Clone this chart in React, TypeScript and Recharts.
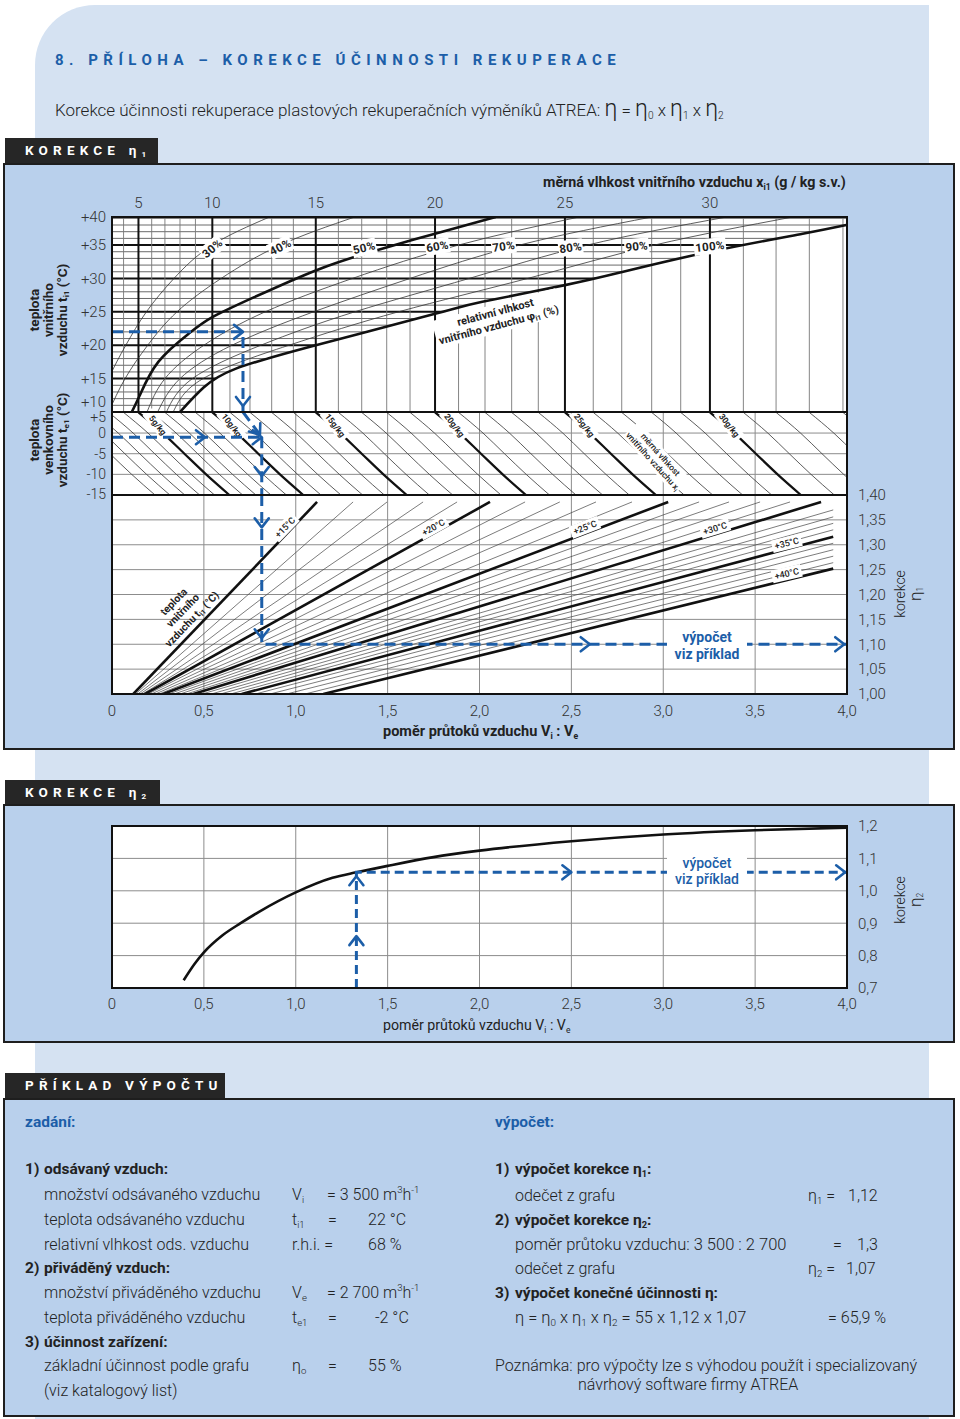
import React from "react";
import { ComposedChart, Line, Area, XAxis, YAxis, ReferenceLine, ReferenceDot } from "recharts";

const FONT = "Roboto, 'Open Sans', 'DejaVu Sans', sans-serif";
const BLUE = "#1c5ea8";
const INK = "#222";
const PANEL = "#d5e2f2";
const BOX = "#b9d0ec";
const GRID = "#8c8c8c";

// poměr průtoků vzduchu Vi : Ve (shared x axis)
const RATIO_TICKS = [0, 0.5, 1, 1.5, 2, 2.5, 3, 3.5, 4];
const RATIO_GRID = [0.5, 1, 1.5, 2, 2.5, 3, 3.5];

// top scale of chart 1: měrná vlhkost x_i1 (g/kg) -> place on the ratio axis
const HUM_KNOT_G = [0, 4, 5, 6, 7, 8, 9, 10, 11, 12, 13, 14, 15, 16, 17, 18, 19, 20, 21, 22, 23, 24, 25, 26, 27, 28, 29, 30, 31, 32, 33, 34];
const HUM_KNOT_AT = [-0.261, 0.063, 0.144, 0.216, 0.288, 0.37, 0.454, 0.546, 0.642, 0.751, 0.869, 0.987, 1.109, 1.232, 1.359, 1.495, 1.622, 1.758, 1.886, 2.03, 2.175, 2.32, 2.465, 2.619, 2.774, 2.937, 3.095, 3.254, 3.436, 3.614, 3.795, 3.978];
const HUMIDITY_TICKS = [5, 10, 15, 20, 25, 30];
const HUMIDITY_LINES = [4, 5, 6, 7, 8, 9, 10, 11, 12, 13, 14, 15, 16, 17, 18, 19, 20, 21, 22, 23, 24, 25, 26, 27, 28, 29, 30, 31, 32, 33, 34];

// t_i1 (°C)
const TI_TICKS = [10, 15, 20, 25, 30, 35, 39.2];
const TI_LINES = [11, 12, 13, 14, 15, 16, 17, 18, 19, 20, 21, 22, 23, 24, 25, 26, 27, 28, 29, 30, 31, 32, 33, 34, 35, 36, 37, 38, 39];

// relativní vlhkost curves [x_i1 g/kg, t_i1 °C]
const RH_30 = [[2.2, 10], [3.0, 15], [4.15, 20], [5.6, 25], [7.6, 30], [10.0, 35], [12.9, 39.2]];
const RH_40 = [[3.0, 10], [4.1, 15], [5.7, 20], [7.8, 25], [10.5, 30], [13.4, 35], [16.7, 39.2]];
const RH_50 = [[4.55, 10], [5.1, 12.5], [6.5, 17.5], [8.55, 21.7], [10.0, 24.2], [12.2, 27.2], [15.0, 31.2], [17.4, 34.0], [20.0, 36.7], [22.4, 39.2]];
const RH_60 = [[5.65, 10], [7.0, 15], [9.5, 20], [12.7, 25], [16.6, 30], [21.0, 35], [25.5, 39.2]];
const RH_70 = [[6.45, 10], [8.0, 15], [11.1, 20], [14.9, 25], [19.0, 30], [23.3, 35], [28.0, 39.2]];
const RH_80 = [[7.1, 10], [8.8, 15], [12.5, 20], [16.7, 25], [21.4, 30], [25.8, 35], [30.5, 39.2]];
const RH_90 = [[7.55, 10], [9.45, 15], [13.8, 20], [18.5, 25], [23.6, 30], [28.1, 35], [32.5, 39.2]];
const RH_100 = [[8.0, 10], [9.5, 13.7], [11.3, 16.5], [15.0, 20], [20.0, 24.7], [21.9, 26.5], [25.0, 29], [27.05, 31], [30.0, 34], [32.8, 36.7], [34.1, 38.0]];
const RH_THIN = [RH_30, RH_40, RH_60, RH_70, RH_80, RH_90];
const RH_LABELS = ["30%", "40%", "50%", "60%", "70%", "80%", "90%", "100%"];
const RH_LABEL_G = [10.0, 13.4, 17.1, 20.1, 22.7, 25.2, 27.5, 30.0];
const RH_LABEL_T = [34.5, 34.7, 34.6, 34.8, 34.8, 34.6, 34.8, 34.8];
const RH_LABEL_ROT = [-40, -27, -13, -10, -8, -8, -6, -6];

// t_e1 (°C) and the x_i curves of the middle band
const TE_TICKS = [5, 0, -5, -10, -15];
const TE_LINES = [0, -5, -10];
const TE_LEVELS = [5, 0, -5, -10, -15];
const TE_SHIFT = [0, 0.133, 0.25, 0.368, 0.495];
const X_CURVES = [0, 1, 2, 3, 4, 5, 6, 7, 8, 9, 10, 11, 12, 13, 14, 15, 16, 17, 18, 19, 20, 21, 22, 23, 24, 25, 26, 27, 28, 29, 30, 31, 32, 33, 34];
const X_LABELED = [5, 10, 15, 20, 25, 30];

// korekce η1 fan (t_i1 lines)
const ETA1_TICKS = [1, 1.05, 1.1, 1.15, 1.2, 1.25, 1.3, 1.35, 1.4];
const ETA1_LINES = [1.05, 1.1, 1.15, 1.2, 1.25, 1.3, 1.35];
const FAN_TEMPS = [15, 16, 17, 18, 19, 20, 21, 22, 23, 24, 25, 26, 27, 28, 29, 30, 31, 32, 33, 34, 35, 36, 37, 38, 39, 40];
const FAN_START = [0.116, 0.128, 0.14, 0.153, 0.166, 0.18, 0.197, 0.215, 0.236, 0.257, 0.279, 0.308, 0.338, 0.37, 0.405, 0.443, 0.49, 0.54, 0.59, 0.645, 0.706, 0.78, 0.86, 0.95, 1.05, 1.15];
const FAN_END_X = [1.116, 1.312, 1.497, 1.693, 1.878, 2.057, 2.248, 2.437, 2.634, 2.83, 3.027, 3.195, 3.358, 3.527, 3.69, 3.859, 3.925, 3.925, 3.925, 3.925, 3.925, 3.925, 3.925, 3.925, 3.925, 3.925];
const FAN_END_ETA = [1.386, 1.386, 1.386, 1.386, 1.386, 1.386, 1.386, 1.386, 1.386, 1.386, 1.386, 1.386, 1.386, 1.386, 1.386, 1.386, 1.37, 1.356, 1.343, 1.33, 1.316, 1.303, 1.29, 1.277, 1.264, 1.252];
const FAN_LABELS = ["+15°C", "+20°C", "+25°C", "+30°C", "+35°C", "+40°C"];
const FAN_LABEL_X = [0.941, 1.749, 2.574, 3.282, 3.672, 3.672];
const FAN_LABEL_Y = [1.335, 1.335, 1.335, 1.333, 1.303, 1.242];
const FAN_LABEL_ROT = [-46, -29, -21, -17, -14, -13];

// korekce η2
const ETA2_TICKS = [0.7, 0.8, 0.9, 1.0, 1.1, 1.2];
const ETA2_LINES = [0.8, 0.9, 1.0, 1.1];
const ETA2_RATIO = [0.39, 0.45, 0.5, 0.6, 0.7, 0.8, 1.0, 1.2, 1.33, 1.5, 1.75, 2.0, 2.5, 3.0, 3.5, 4.0];
const ETA2_VALUE = [0.724, 0.775, 0.81, 0.862, 0.9, 0.935, 0.995, 1.04, 1.057, 1.077, 1.104, 1.124, 1.153, 1.174, 1.187, 1.195];

// worked example (blue dashed path)
const EX_TI = 22;
const EX_XI = 11.65;
const EX_TE = -1;
const EX_COL = 0.815;
const EX_ETA1 = 1.1;
const EX_RATIO = 1.33;
const EX_ETA2 = 1.057;

const humAt = (g: number) => {
  const k = HUM_KNOT_G;
  const a = HUM_KNOT_AT;
  let i = 1;
  while (i < k.length - 1 && g > k[i]) i++;
  return a[i - 1] + ((g - k[i - 1]) * (a[i] - a[i - 1])) / (k[i] - k[i - 1]);
};
const pts = (arr: number[][]) => arr.map(([g, t]) => ({ x: humAt(g), y: t }));
const comma = (v: number, d: number) => (v === 0 ? "0" : v.toFixed(d).replace(".", ","));

type PlotProps = {
  top: number; h: number; dom: [number, number];
  y?: "left" | "right"; x?: "top" | "bottom";
  yTicks?: number[]; yTick?: any; yFmt?: (v: number) => string;
  xTicks?: number[]; xFmt?: (v: number, i: number) => string; xMargin?: number;
  show?: boolean; data?: any[]; children?: React.ReactNode;
};

function Plot({ top, h, dom, y, x, yTicks, yTick, yFmt, xTicks, xFmt, xMargin = 10, show = false, data, children }: PlotProps) {
  const yw = y === "left" ? 50 : 60;
  const xh = 30;
  const boxTop = x === "top" ? top - xh : top;
  const height = h + (x ? xh : 0);
  const margin = { top: 0, bottom: 0, left: y === "left" ? 112 - yw : 112, right: y === "right" ? 113 - yw : 113 };
  const tickStyle = { fill: "#333", fontSize: 15, fontWeight: 300, fontFamily: FONT };
  return (
    <div style={{ position: "absolute", left: 0, top: boxTop, width: 960, height }}>
      <ComposedChart width={960} height={height} margin={margin} data={data}>
        <XAxis type="number" dataKey="x" domain={[0, 4]} allowDataOverflow hide={!x}
          orientation={x === "top" ? "top" : "bottom"} height={xh}
          ticks={xTicks} interval={0} tickFormatter={xFmt}
          tick={show ? tickStyle : false} axisLine={false} tickLine={false} tickSize={0} tickMargin={xMargin} />
        <YAxis type="number" domain={dom} allowDataOverflow hide={!y}
          orientation={y === "right" ? "right" : "left"} width={yw}
          ticks={yTicks} interval={0} tickFormatter={yFmt}
          tick={show ? yTick || tickStyle : false} axisLine={false} tickLine={false} tickSize={0}
          tickMargin={y === "right" ? 11 : 6} />
        {children}
      </ComposedChart>
    </div>
  );
}

function tag(cx: number, cy: number, lines: React.ReactNode[], o: { w: number; rot?: number; size?: number; weight?: number; color?: string; bg?: boolean; ls?: number }) {
  const size = o.size ?? 9;
  const lh = size * 1.2;
  const h = lines.length * lh + 2;
  return (
    <g transform={`translate(${cx},${cy}) rotate(${o.rot ?? 0})`}>
      {o.bg !== false && <rect x={-o.w / 2} y={-h / 2} width={o.w} height={h} fill="#fff" />}
      <text textAnchor="middle" fontSize={size} fontWeight={o.weight ?? 700} fill={o.color ?? INK} fontFamily={FONT} letterSpacing={o.ls ?? 0}>
        {lines.map((l, i) => (
          <tspan key={i} x={0} y={(i - (lines.length - 1) / 2) * lh + size * 0.35}>{l}</tspan>
        ))}
      </text>
    </g>
  );
}

const chevron = (cx: number, cy: number, rot: number) => (
  <path d="M-9,-7L0,0L-9,7" transform={`translate(${cx},${cy}) rotate(${rot})`} fill="none" stroke={BLUE} strokeWidth={2.6} strokeLinecap="round" strokeLinejoin="round" />
);

const mark = (key: string, x: number, y: number, draw: (cx: number, cy: number) => React.ReactElement) => (
  <ReferenceDot key={key} x={x} y={y} r={0} ifOverflow="visible" shape={(p: any) => draw(p.cx, p.cy)} />
);

const line = (key: string, data: { x: number; y: number }[], stroke: string, width: number, type: any = "monotone", dash?: string) => (
  <Line key={key} data={data} dataKey="y" type={type} stroke={stroke} strokeWidth={width} strokeDasharray={dash}
    dot={false} activeDot={false} isAnimationActive={false} />
);

const Sub = ({ children }: { children: React.ReactNode }) => (
  <span style={{ fontSize: "0.6em", verticalAlign: "-0.3em", lineHeight: 0 }}>{children}</span>
);
const Sup = ({ children }: { children: React.ReactNode }) => (
  <span style={{ fontSize: "0.6em", verticalAlign: "0.7em", lineHeight: 0 }}>{children}</span>
);

const T = ({ x, y, s = 16, w = 300, c = INK, ls = 0, children }: any) => (
  <div style={{ position: "absolute", left: x, top: y - s * 0.62, fontSize: s, fontWeight: w, color: c, letterSpacing: ls, whiteSpace: "nowrap", lineHeight: `${s * 1.2}px` }}>
    {children}
  </div>
);

const Vert = ({ cx, cy, s = 13, w = 700, lh = 14, children }: any) => (
  <div style={{ position: "absolute", left: cx, top: cy, transform: "translate(-50%,-50%) rotate(-90deg)", fontSize: s, fontWeight: w, lineHeight: `${lh}px`, whiteSpace: "nowrap", textAlign: "center", color: INK }}>
    {children}
  </div>
);

function Box({ top, bottom, tabTop, tabW, children }: any) {
  return (
    <>
      <div style={{ position: "absolute", left: 5, top: tabTop, width: tabW, height: top - tabTop + 1, background: "#262626" }} />
      <div style={{ position: "absolute", left: 25, top: tabTop, height: top - tabTop, lineHeight: `${top - tabTop}px`, color: "#fff", fontWeight: 700, fontSize: 13.5, letterSpacing: 5.2, whiteSpace: "nowrap" }}>{children}</div>
      <div style={{ position: "absolute", left: 3, top, width: 952, height: bottom - top, background: BOX, border: "2px solid #1e1e1e", boxSizing: "border-box" }} />
    </>
  );
}

const UP = { top: 217, h: 195, dom: [10, 39.2] as [number, number] };
const MID = { top: 412, h: 83, dom: [-15, 5.1] as [number, number] };
const LOW = { top: 495, h: 199, dom: [1, 1.4] as [number, number] };
const C2 = { top: 826, h: 162, dom: [0.7, 1.2] as [number, number] };

const tiTick = (p: any) => {
  const v = p.payload.value;
  return (
    <text x={p.x} y={p.y + (v === 10 ? -10 : 0)} dy="0.35em" textAnchor="end" fill="#333" fontSize={15} fontWeight={300} fontFamily={FONT}>
      {v >= 39 ? "+40" : `+${v}`}
    </text>
  );
};
const teTick = (p: any) => {
  const v = p.payload.value;
  return (
    <text x={p.x} y={p.y + (v === 5 ? 5 : v === -15 ? -1 : 0)} dy="0.35em" textAnchor="end" fill="#333" fontSize={14} fontWeight={300} fontFamily={FONT}>
      {v > 0 ? `+${v}` : String(v)}
    </text>
  );
};

export default function App() {
  const up = { ...UP, y: "left" as const, x: "top" as const, yTicks: TI_TICKS, yTick: tiTick, xTicks: HUMIDITY_TICKS.map(humAt), xFmt: (_v: number, i: number) => String(HUMIDITY_TICKS[i]), xMargin: 9 };
  const mid = { ...MID, y: "left" as const, yTicks: TE_TICKS, yTick: teTick };
  const low = { ...LOW, y: "right" as const, x: "bottom" as const, yTicks: ETA1_TICKS, yFmt: (v: number) => comma(v, 2), xTicks: RATIO_TICKS, xFmt: (v: number) => comma(v, 1), xMargin: 11 };
  const c2 = { ...C2, y: "right" as const, x: "bottom" as const, yTicks: ETA2_TICKS, yFmt: (v: number) => comma(v, 1), xTicks: RATIO_TICKS, xFmt: (v: number) => comma(v, 1), xMargin: 10 };
  const exX = humAt(EX_XI);
  const dash = "11 6";
  const eta = { fontSize: 23 };

  return (
    <div style={{ position: "absolute", left: 0, top: 0, width: 960, height: 1419, background: "#fff", fontFamily: FONT, color: INK, overflow: "hidden" }}>
      <style>{`.recharts-surface{overflow:visible}`}</style>
      <div style={{ position: "absolute", left: 35, top: 5, width: 894, height: 1414, background: PANEL, borderTopLeftRadius: 60 }} />
      <T x={55} y={60} s={15} w={700} c={BLUE} ls={5.5}>8. PŘÍLOHA – KOREKCE ÚČINNOSTI REKUPERACE</T>
      <T x={55} y={110} s={17}>
        Korekce účinnosti rekuperace plastových rekuperačních výměníků ATREA: <span style={eta}>η</span> = <span style={eta}>η</span><Sub>0</Sub> x <span style={eta}>η</span><Sub>1</Sub> x <span style={eta}>η</span><Sub>2</Sub>
      </T>

      <Box top={163} bottom={750} tabTop={138} tabW={153}>KOREKCE η<Sub>1</Sub></Box>
      <Box top={804} bottom={1043} tabTop={780} tabW={155}>KOREKCE η<Sub>2</Sub></Box>
      <Box top={1098} bottom={1417} tabTop={1073} tabW={220}>PŘÍKLAD VÝPOČTU</Box>

      {/* plot backgrounds */}
      <div style={{ position: "absolute", left: 112, top: 217, width: 735, height: 477, background: "#fff" }} />
      <div style={{ position: "absolute", left: 112, top: 826, width: 735, height: 162, background: "#fff" }} />

      {/* ---- chart 1, upper band: t_i1 vs x_i1 ---- */}
      <Plot {...up}>
        {TI_LINES.map((t) => (
          <ReferenceLine key={`h${t}`} y={t} stroke={t % 5 === 0 ? "#111" : "#444"} strokeWidth={t % 5 === 0 ? 2 : 0.8} />
        ))}
      </Plot>
      <Plot {...up} data={pts(RH_100)}>
        <Area dataKey="y" type="natural" baseValue={10} fill="#fff" fillOpacity={1} stroke="none" isAnimationActive={false} activeDot={false} />
      </Plot>
      <Plot {...up}>
        {HUMIDITY_LINES.map((g) => (
          <ReferenceLine key={`v${g}`} x={humAt(g)} stroke={g % 5 === 0 ? "#111" : "#777"} strokeWidth={g % 5 === 0 ? 2 : 0.9} />
        ))}
        {RH_THIN.map((c, i) => line(`rh${i}`, pts(c), "#333", 0.8, "natural"))}
        {line("rh50", pts(RH_50), "#111", 2.6, "natural")}
        {line("rh100", pts(RH_100), "#111", 2.6, "natural")}
      </Plot>
      <Plot {...up}>
        {RH_LABELS.map((l, i) =>
          mark(`rl${i}`, humAt(RH_LABEL_G[i]), RH_LABEL_T[i], (cx, cy) => tag(cx, cy, [l], { w: l.length * 7.5 + 2, rot: RH_LABEL_ROT[i], size: 11.5, ls: 0.3 }))
        )}
        {mark("rlt", humAt(22.45), 24.0, (cx, cy) =>
          tag(cx, cy, ["relativní vlhkost", <>vnitřního vzduchu φ<tspan fontSize={7} dy={2}>i1</tspan><tspan dy={-2}> (%)</tspan></>], { w: 128, rot: -15, size: 11 })
        )}
      </Plot>
      <Plot {...up} show>
        {line("exu", [{ x: 0, y: EX_TI }, { x: exX, y: EX_TI }, { x: exX, y: 10 }], BLUE, 3, "linear", dash)}
        {mark("au1", exX, EX_TI, (cx, cy) => chevron(cx, cy, 0))}
        {mark("au2", exX, 10.9, (cx, cy) => chevron(cx, cy, 90))}
      </Plot>

      {/* ---- chart 1, middle band: t_e1 with x_i curves ---- */}
      <Plot {...mid}>
        {TE_LINES.map((t) => <ReferenceLine key={`te${t}`} y={t} stroke={GRID} strokeWidth={1} />)}
        {RATIO_GRID.map((r) => <ReferenceLine key={`mr${r}`} x={r} stroke={GRID} strokeWidth={1} />)}
        {X_CURVES.map((g) =>
          line(`xc${g}`, TE_LEVELS.map((te, i) => ({ x: humAt(g) + TE_SHIFT[i], y: te })), g % 5 === 0 && g > 0 ? "#111" : "#333", g % 5 === 0 && g > 0 ? 2.2 : 0.8)
        )}
      </Plot>
      <Plot {...mid}>
        {X_LABELED.map((g) => mark(`xl${g}`, humAt(g) + 0.105, 1.9, (cx, cy) => tag(cx, cy, [`${g}g/kg`], { w: 34, rot: 52, size: 8.5 })))}
        {mark("xlt", 2.964, -6.05, (cx, cy) =>
          tag(cx, cy, ["měrná vlhkost", <>vnitřního vzduchu x<tspan fontSize={6} dy={2}>i</tspan></>], { w: 78, rot: 48, size: 8.5, weight: 500 })
        )}
      </Plot>
      <Plot {...mid} show>
        {line("exm1", [{ x: exX, y: 5.1 }, { x: EX_COL, y: EX_TE }], BLUE, 3, "linear", dash)}
        {line("exm2", [{ x: 0, y: EX_TE }, { x: EX_COL, y: EX_TE }], BLUE, 3, "linear", dash)}
        {line("exm3", [{ x: EX_COL, y: EX_TE }, { x: EX_COL, y: -15 }], BLUE, 3, "linear", dash)}
        {mark("am1", EX_COL - 0.01, EX_TE + 0.6, (cx, cy) => chevron(cx, cy, 54))}
        {mark("am2", EX_COL, EX_TE, (cx, cy) => chevron(cx, cy, 0))}
        {mark("am3", 0.506, EX_TE, (cx, cy) => chevron(cx, cy, 0))}
        {mark("am4", EX_COL, -10.4, (cx, cy) => chevron(cx, cy, 90))}
      </Plot>

      {/* ---- chart 1, lower band: korekce η1 ---- */}
      <Plot {...low}>
        {ETA1_LINES.map((e) => <ReferenceLine key={`el${e}`} y={e} stroke={GRID} strokeWidth={1} />)}
        {RATIO_GRID.map((r) => <ReferenceLine key={`lr${r}`} x={r} stroke={GRID} strokeWidth={1} />)}
        {FAN_TEMPS.map((t, i) =>
          line(`f${t}`, [{ x: FAN_START[i], y: 1 }, { x: FAN_END_X[i], y: FAN_END_ETA[i] }], t % 5 === 0 ? "#111" : "#444", t % 5 === 0 ? 2.6 : 0.7, "linear")
        )}
      </Plot>
      <Plot {...low}>
        {FAN_LABELS.map((l, i) => mark(`fl${i}`, FAN_LABEL_X[i], FAN_LABEL_Y[i], (cx, cy) => tag(cx, cy, [l], { w: 30, rot: FAN_LABEL_ROT[i], size: 9, weight: 500 })))}
        {mark("flt", 0.385, 1.168, (cx, cy) =>
          tag(cx, cy, ["teplota", "vnitřního", <>vzduchu t<tspan fontSize={7} dy={2}>i1</tspan><tspan dy={-2}> (°C)</tspan></>], { w: 100, rot: -46, size: 10.5, bg: false })
        )}
      </Plot>
      <Plot {...low}>
        {line("exl", [{ x: EX_COL, y: 1.4 }, { x: EX_COL, y: EX_ETA1 }, { x: 4, y: EX_ETA1 }], BLUE, 3, "linear", dash)}
        {mark("al1", EX_COL, 1.335, (cx, cy) => chevron(cx, cy, 90))}
        {mark("al2", EX_COL, 1.112, (cx, cy) => chevron(cx, cy, 90))}
        {mark("al3", 2.6, EX_ETA1, (cx, cy) => chevron(cx, cy, 0))}
        {mark("al4", 3.985, EX_ETA1, (cx, cy) => chevron(cx, cy, 0))}
      </Plot>
      <Plot {...low} show>
        {mark("vp1", 3.238, 1.097, (cx, cy) => tag(cx, cy, ["výpočet", "viz příklad"], { w: 80, size: 14, color: BLUE }))}
      </Plot>

      {/* frame of chart 1 */}
      <div style={{ position: "absolute", left: 111, top: 216, width: 737, height: 479, border: "2px solid #111", boxSizing: "border-box" }} />
      <div style={{ position: "absolute", left: 112, top: 411, width: 735, height: 2, background: "#111" }} />
      <div style={{ position: "absolute", left: 112, top: 494, width: 735, height: 2, background: "#111" }} />

      <T x={543} y={183} s={14.3} w={700}>měrná vlhkost vnitřního vzduchu x<Sub>i1</Sub> (g / kg s.v.)</T>
      <T x={383} y={732} s={14.5} w={700}>poměr průtoků vzduchu V<Sub>i</Sub> : V<Sub>e</Sub></T>
      <Vert cx={48} cy={310} s={13.5}>teplota<br />vnitřního<br />vzduchu t<Sub>i1</Sub> (°C)</Vert>
      <Vert cx={48} cy={440} s={13.5}>teplota<br />venkovního<br />vzduchu t<Sub>e1</Sub> (°C)</Vert>
      <Vert cx={908} cy={594} s={14} w={300} lh={15}>korekce<br /><span style={{ fontSize: 17 }}>η</span><Sub>1</Sub></Vert>

      {/* ---- chart 2: korekce η2 ---- */}
      <Plot {...c2}>
        {ETA2_LINES.map((e) => <ReferenceLine key={`e2${e}`} y={e} stroke={GRID} strokeWidth={1} />)}
        {RATIO_GRID.map((r) => <ReferenceLine key={`r2${r}`} x={r} stroke={GRID} strokeWidth={1} />)}
        {line("eta2", ETA2_RATIO.map((r, i) => ({ x: r, y: ETA2_VALUE[i] })), "#111", 2.6)}
      </Plot>
      <Plot {...c2}>
        {line("ex2", [{ x: EX_RATIO, y: 0.7 }, { x: EX_RATIO, y: EX_ETA2 }, { x: 4, y: EX_ETA2 }], BLUE, 3, "linear", "9 5")}
        {mark("a21", EX_RATIO, 0.86, (cx, cy) => chevron(cx, cy, -90))}
        {mark("a22", EX_RATIO, 1.045, (cx, cy) => chevron(cx, cy, -90))}
        {mark("a23", 2.5, EX_ETA2, (cx, cy) => chevron(cx, cy, 0))}
        {mark("a24", 3.99, EX_ETA2, (cx, cy) => chevron(cx, cy, 0))}
      </Plot>
      <Plot {...c2} show>
        {mark("vp2", 3.238, 1.061, (cx, cy) => tag(cx, cy, ["výpočet", "viz příklad"], { w: 80, size: 14, color: BLUE, weight: 500 }))}
      </Plot>
      <div style={{ position: "absolute", left: 111, top: 825, width: 737, height: 164, border: "2px solid #111", boxSizing: "border-box" }} />
      <T x={383} y={1026} s={14.2} w={400}>poměr průtoků vzduchu V<Sub>i</Sub> : V<Sub>e</Sub></T>
      <Vert cx={908} cy={900} s={14} w={300} lh={15}>korekce<br /><span style={{ fontSize: 17 }}>η</span><Sub>2</Sub></Vert>

      {/* ---- příklad výpočtu ---- */}
      <T x={25} y={1123} s={15.5} w={700} c={BLUE}>zadání:</T>
      <T x={25} y={1170} s={15.5} w={700}>1)</T><T x={44} y={1170} s={15.5} w={700}>odsávaný vzduch:</T>
      <T x={44} y={1195}>množství odsávaného vzduchu</T><T x={292} y={1195}>V<Sub>i</Sub></T><T x={327} y={1195}>= 3 500 m<Sup>3</Sup>h<Sup>-1</Sup></T>
      <T x={44} y={1220}>teplota odsávaného vzduchu</T><T x={292} y={1220}>t<Sub>i1</Sub></T><T x={328} y={1220}>=</T><T x={368} y={1220}>22 °C</T>
      <T x={44} y={1245}>relativní vlhkost ods. vzduchu</T><T x={292} y={1245}>r.h.i. =</T><T x={368} y={1245}>68 %</T>
      <T x={25} y={1269} s={15.5} w={700}>2)</T><T x={44} y={1269} s={15.5} w={700}>přiváděný vzduch:</T>
      <T x={44} y={1293}>množství přiváděného vzduchu</T><T x={292} y={1293}>V<Sub>e</Sub></T><T x={327} y={1293}>= 2 700 m<Sup>3</Sup>h<Sup>-1</Sup></T>
      <T x={44} y={1318}>teplota přiváděného vzduchu</T><T x={292} y={1318}>t<Sub>e1</Sub></T><T x={328} y={1318}>=</T><T x={375} y={1318}>-2 °C</T>
      <T x={25} y={1343} s={15.5} w={700}>3)</T><T x={44} y={1343} s={15.5} w={700}>účinnost zařízení:</T>
      <T x={44} y={1366}>základní účinnost podle grafu</T><T x={292} y={1366}>η<Sub>o</Sub></T><T x={328} y={1366}>=</T><T x={368} y={1366}>55 %</T>
      <T x={44} y={1391}>(viz katalogový list)</T>

      <T x={495} y={1123} s={15.5} w={700} c={BLUE}>výpočet:</T>
      <T x={495} y={1170} s={15.5} w={700}>1)</T><T x={515} y={1170} s={15.5} w={700}>výpočet korekce η<Sub>1</Sub>:</T>
      <T x={515} y={1196}>odečet z grafu</T><T x={808} y={1196}>η<Sub>1</Sub> =</T><T x={848} y={1196}>1,12</T>
      <T x={495} y={1221} s={15.5} w={700}>2)</T><T x={515} y={1221} s={15.5} w={700}>výpočet korekce η<Sub>2</Sub>:</T>
      <T x={515} y={1245} s={16.5}>poměr průtoku vzduchu: 3 500 : 2 700</T><T x={833} y={1245}>=</T><T x={857} y={1245}>1,3</T>
      <T x={515} y={1269}>odečet z grafu</T><T x={808} y={1269}>η<Sub>2</Sub> =</T><T x={846} y={1269}>1,07</T>
      <T x={495} y={1294} s={15.5} w={700}>3)</T><T x={515} y={1294} s={15.5} w={700}>výpočet konečné účinnosti η:</T>
      <T x={515} y={1318} s={16.5}>η = η<Sub>0</Sub> x η<Sub>1</Sub> x η<Sub>2</Sub> = 55 x 1,12 x 1,07</T><T x={828} y={1318}>= 65,9 %</T>
      <T x={495} y={1366}>Poznámka: pro výpočty lze s výhodou použít i specializovaný</T>
      <T x={578} y={1385}>návrhový software firmy ATREA</T>
    </div>
  );
}
